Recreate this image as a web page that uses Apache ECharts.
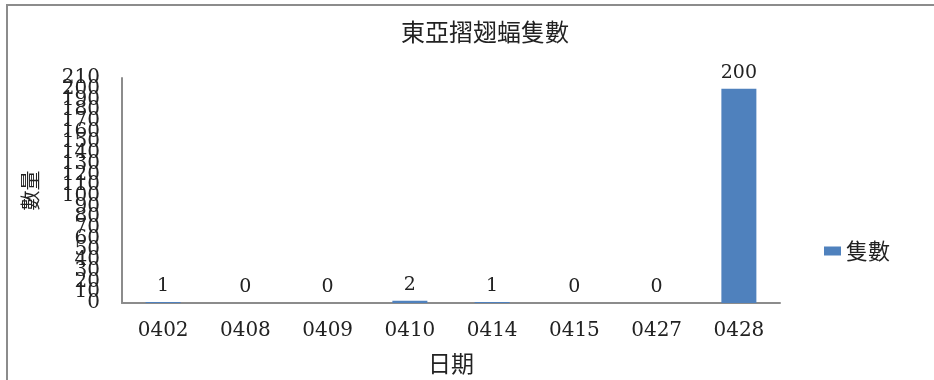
<!DOCTYPE html>
<html>
<head>
<meta charset="utf-8">
<script src="https://cdn.jsdelivr.net/npm/echarts@6/dist/echarts.min.js"></script>
<style>
html,body{margin:0;padding:0;background:#fff;}
#wrap{position:relative;width:934px;height:380px;overflow:hidden;}
#frame{position:absolute;left:6px;top:4px;width:1000px;height:500px;border-left:2px solid #8c8c8c;border-top:2px solid #8c8c8c;}
#chart{position:absolute;left:0;top:0;width:934px;height:380px;}
</style>
</head>
<body>
<div id="wrap"><div id="frame"></div><div id="chart"></div></div>
<script>
const titleText = '東亞摺翅蝠隻數';
const seriesName = '隻數';
const xName = '日期';
const yName = '數量';
const categories = ['0402','0408','0409','0410','0414','0415','0427','0428'];
const values = [1, 0, 0, 2, 1, 0, 0, 200];
const yMin = 0, yMax = 210, yStep = 10;

const cjk = '"Noto Sans CJK TC", "Noto Sans CJK SC", sans-serif';
const num = '"DejaVu Serif", "Liberation Serif", serif';

const labelBase = {fontFamily: num, fontSize: 20, color: '#222', margin: 22, hideOverlap: false};
const firstInner = yMin + yStep;       // label next to the minimum
const lastInner = yMax - yStep;        // label next to the maximum

const chart = echarts.init(document.getElementById('chart'), null, {renderer: 'canvas'});
chart.setOption({
  backgroundColor: 'transparent',
  animation: false,
  title: {
    text: titleText,
    left: 480,
    top: 15,
    textAlign: 'center',
    textStyle: {fontFamily: cjk, fontSize: 24, fontWeight: 'normal', color: '#222'}
  },
  legend: {
    data: [seriesName],
    left: 819,
    top: 235,
    icon: 'rect',
    itemWidth: 17,
    itemHeight: 9,
    itemGap: 10,
    textStyle: {fontFamily: cjk, fontSize: 22, color: '#222'}
  },
  grid: {left: 122, right: 154, top: 78, bottom: 77, containLabel: false},
  xAxis: {
    type: 'category',
    data: categories,
    name: xName,
    nameLocation: 'middle',
    nameGap: 49,
    nameTextStyle: {fontFamily: cjk, fontSize: 23, color: '#222'},
    axisLine: {lineStyle: {color: '#8c8c8c', width: 2}},
    axisTick: {show: false},
    axisLabel: {fontFamily: num, fontSize: 20, color: '#222', margin: 18}
  },
  yAxis: [{
    type: 'value',
    min: yMin,
    max: yMax,
    interval: yStep,
    position: 'left',
    name: yName,
    nameLocation: 'middle',
    nameRotate: 90,
    nameGap: 82,
    nameTextStyle: {fontFamily: cjk, fontSize: 20, color: '#222'},
    axisLine: {show: true, lineStyle: {color: '#8c8c8c', width: 2}},
    axisTick: {show: false},
    splitLine: {show: false},
    axisLabel: Object.assign({}, labelBase, {showMinLabel: true, showMaxLabel: true})
  }, {
    type: 'value',
    min: yMin,
    max: yMax,
    interval: yStep,
    position: 'left',
    offset: 0,
    axisLine: {show: false},
    axisTick: {show: false},
    splitLine: {show: false},
    axisLabel: Object.assign({}, labelBase, {
      showMinLabel: false, showMaxLabel: false,
      formatter: function (v) { return (v === firstInner || v === lastInner) ? String(v) : ''; }
    })
  }],
  series: [{
    name: seriesName,
    type: 'bar',
    yAxisIndex: 0,
    data: values,
    barWidth: 35,
    itemStyle: {color: '#4f81bd'},
    label: {show: true, position: 'top', distance: 6, fontFamily: num, fontSize: 19, color: '#222'}
  }]
});
</script>
</body>
</html>
